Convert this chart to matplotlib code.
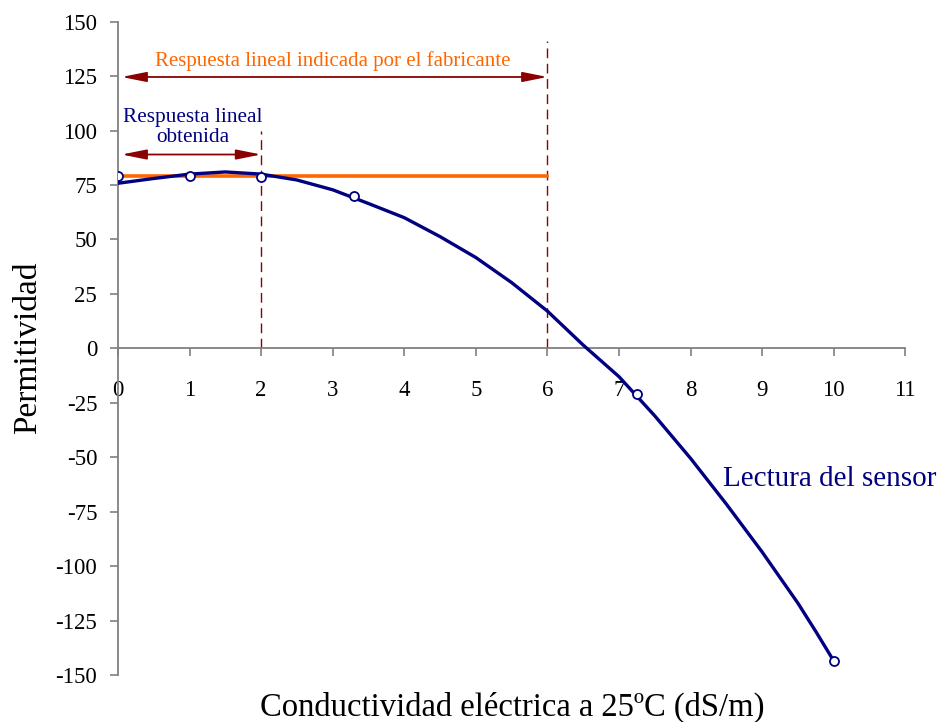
import matplotlib.pyplot as plt
import numpy as np

plt.rcParams["font.family"] = ["Liberation Serif", "DejaVu Serif"]
plt.rcParams["axes.unicode_minus"] = False

# measured points
cond_pts = [0.0, 1.0, 2.0, 3.3, 7.25, 10.0]
perm_pts = [79.0, 79.0, 78.5, 70.0, -21.0, -143.5]

# sensor reading curve
cond_curve = [0.0, 0.5, 1.0, 1.5, 2.0, 2.5, 3.0, 3.5, 4.0, 4.5, 5.0, 5.5,
              6.0, 6.5, 7.0, 7.5, 8.0, 8.5, 9.0, 9.5, 9.75, 10.0]
perm_curve = [75.8, 78.0, 80.0, 81.0, 80.0, 77.3, 72.8, 66.5, 60.0, 51.3, 41.7, 30.2,
              17.1, 1.5, -13.0, -31.0, -50.5, -71.5, -93.5, -117.0, -130.0, -143.5]

linear_level = 79
obtained_limit = 2
maker_limit = 6

navy = "#000080"
orange = "#FF6600"
darkred = "#8B0000"

fig = plt.figure(figsize=(9.44, 7.22), dpi=100)
ax = fig.add_axes([0.125, 0.065, 0.834, 0.905])

ax.plot(cond_curve, perm_curve, color=navy, lw=2.4, zorder=4)
ax.plot(cond_pts, perm_pts, "o", mfc="white", mec=navy, mew=1.3, ms=6.5, zorder=5)
ax.plot([0, maker_limit], [linear_level, linear_level], color=orange, lw=2.6, zorder=3)

ax.plot([obtained_limit, obtained_limit], [0, 100], color=darkred, lw=1, ls=(0, (7, 4)))
ax.plot([maker_limit, maker_limit], [0, 141], color=darkred, lw=1, ls=(0, (7, 4)))

arrow = dict(arrowstyle="<|-|>,head_length=1.5,head_width=0.3", color=darkred, lw=1.3,
             shrinkA=0, shrinkB=0)
ax.annotate("", xy=(0.05, 124.6), xytext=(maker_limit, 124.6), arrowprops=arrow)
ax.annotate("", xy=(0.05, 89), xytext=(obtained_limit, 89), arrowprops=arrow)

ax.text(3.0, 132, "Respuesta lineal indicada por el fabricante", color=orange,
        fontsize=15, ha="center", va="center")
ax.text(1.05, 101.5, "Respuesta lineal\nobtenida", color=navy, fontsize=15.3,
        ha="center", va="center", linespacing=1.05)
ax.text(8.45, -60, "Lectura del sensor", color=navy, fontsize=21, ha="left", va="center")

ax.set_xlim(0, 11)
ax.set_ylim(-150, 150)
ax.set_xticks(range(0, 12))
ax.set_yticks(range(-150, 151, 25))
ax.spines["left"].set_position(("data", 0))
ax.spines["bottom"].set_position(("data", 0))
for s in ["top", "right"]:
    ax.spines[s].set_visible(False)
for s in ["left", "bottom"]:
    ax.spines[s].set_color("#808080")
    ax.spines[s].set_linewidth(1.3)
ax.tick_params(axis="both", colors="#808080", labelcolor="black", labelsize=16.5,
               length=6, width=1.2, direction="out")
ax.tick_params(axis="x", pad=16.5)
ax.tick_params(axis="y", pad=9)
ax.set_clip_on(False)

fig.text(0.543, 0.02, "Conductividad eléctrica a 25ºC (dS/m)", fontsize=23.5,
         ha="center", va="center")
fig.text(0.029, 0.519, "Permitividad", fontsize=24, rotation=90, ha="center", va="center")

fig.savefig("out.png", dpi=100)
